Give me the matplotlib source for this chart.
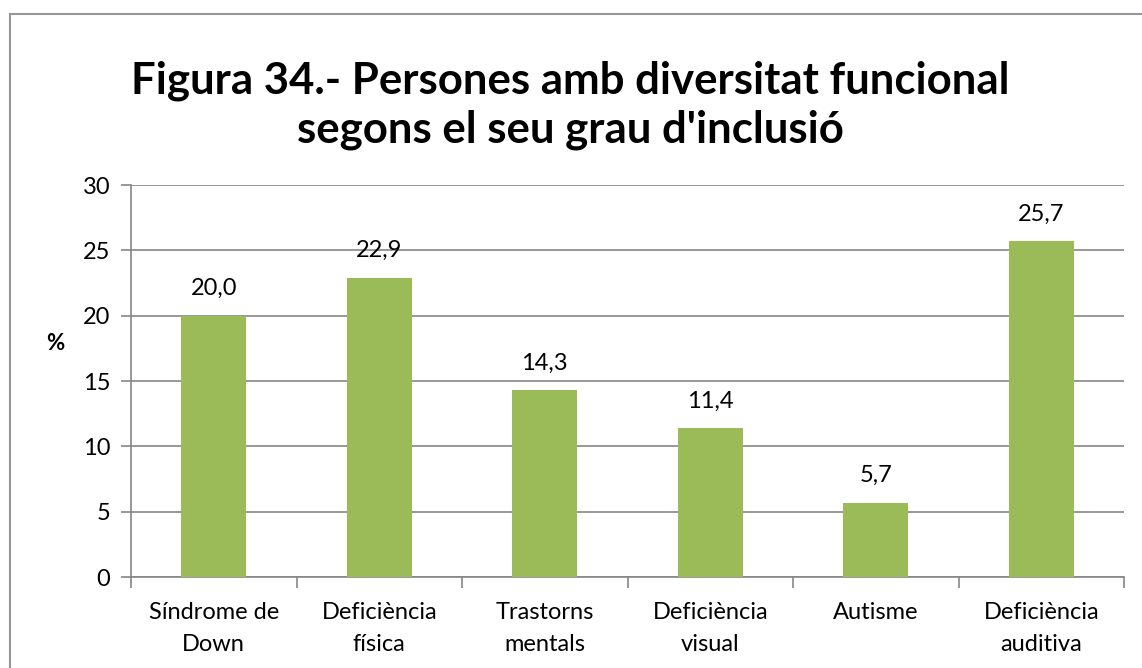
import matplotlib
matplotlib.use("Agg")
import matplotlib.pyplot as plt
from matplotlib.patches import Rectangle

categories = ["Síndrome de\nDown", "Deficiència\nfísica", "Trastorns\nmentals",
              "Deficiència\nvisual", "Autisme", "Deficiència\nauditiva"]
values = [20.0, 22.9, 14.3, 11.4, 5.7, 25.7]
value_labels = ["20,0", "22,9", "14,3", "11,4", "5,7", "25,7"]
yticks = [0, 5, 10, 15, 20, 25, 30]

plt.rcParams['font.family'] = ['Lato', 'DejaVu Sans']
W, H = 1142, 668
fig = plt.figure(figsize=(W/100, H/100), dpi=100)

# outer chart border
fig.patches.append(Rectangle((10/W, -0.2), 1.2, 1.2 - 14/H, transform=fig.transFigure,
                             fill=False, edgecolor="#969696", linewidth=1.5))

ax = fig.add_axes([131/W, 1 - 577/H, (1124-131)/W, (577-185)/H])
x = range(len(categories))
ax.bar(x, values, width=0.39, color="#9BBB59", zorder=3)
ax.set_xlim(-0.5, len(categories) - 0.5)
ax.set_ylim(0, 30)
ax.set_yticks(yticks)
ax.set_yticklabels([str(t) for t in yticks], fontsize=17)
ax.grid(axis="y", color="#868686", linewidth=1.2, zorder=0)
for s in ["top", "right"]:
    ax.spines[s].set_visible(False)
for s in ["left", "bottom"]:
    ax.spines[s].set_color("#868686")
    ax.spines[s].set_linewidth(1.2)
ax.tick_params(axis="y", length=7, color="#868686", width=1.2, pad=8)
ax.set_xticks([i - 0.5 for i in range(len(categories) + 1)], minor=False)
ax.set_xticklabels([])
ax.tick_params(axis="x", length=8, color="#868686", width=1.2)
ax.set_xticks(list(x), minor=True)
ax.set_xticklabels(categories, minor=True, fontsize=17, linespacing=1.65)
ax.tick_params(axis="x", which="minor", length=0, pad=18)

for i, (v, lab) in enumerate(zip(values, value_labels)):
    ax.annotate(lab, (i, v), xytext=(0, 12), textcoords="offset points",
                ha="center", va="bottom", fontsize=17)

fig.text(55/W, 1 - 343/H, "%", fontsize=16, fontweight="bold", ha="center", va="center")
fig.text(570/W, 1 - 105/H, "Figura 34.- Persones amb diversitat funcional\nsegons el seu grau d'inclusió",
         fontsize=31.5, fontweight="bold", ha="center", va="center", linespacing=1.27)

fig.savefig("out.png", dpi=100)
